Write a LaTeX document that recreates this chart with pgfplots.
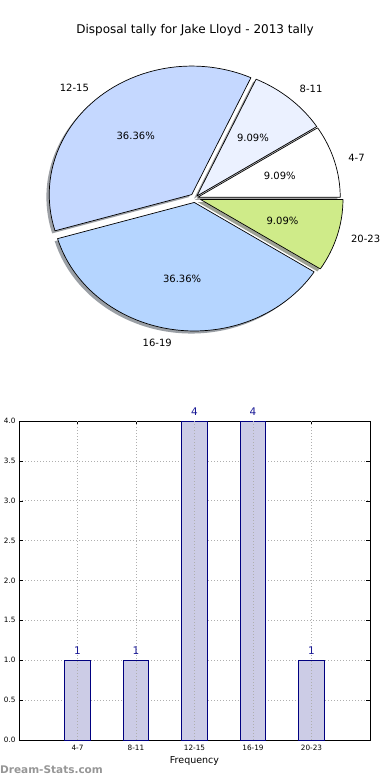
\documentclass[border=0pt]{standalone}
\usepackage{pgfplots}
\pgfplotsset{compat=1.18}
\usepackage{fontspec}
\setmainfont{DejaVu Sans}
\definecolor{cA}{RGB}{255,255,255}
\definecolor{cB}{RGB}{235,241,255}
\definecolor{cC}{RGB}{197,216,255}
\definecolor{cD}{RGB}{181,213,255}
\definecolor{cE}{RGB}{207,235,137}
\definecolor{barfill}{RGB}{204,204,230}
\definecolor{baredge}{RGB}{0,0,128}
\definecolor{lblblue}{RGB}{25,25,150}
\definecolor{gridgray}{RGB}{175,175,175}
\definecolor{wmgray}{RGB}{150,150,150}
% pie wedge: apex x, apex y, start angle, end angle, fill colour
\newcommand{\pieshadow}[5]{%
  \fill[#5!30!black, opacity=0.5] (axis cs:#1,#2) -- ++(#3:142.5pt and 128.5pt)
    arc[start angle=#3, end angle=#4, x radius=142.5pt, y radius=128.5pt] -- cycle;}
\newcommand{\pieslice}[5]{%
  \filldraw[fill=#5, draw=black, line width=0.7pt, line join=round] (axis cs:#1,#2) -- ++(#3:142.5pt and 128.5pt)
    arc[start angle=#3, end angle=#4, x radius=142.5pt, y radius=128.5pt] -- cycle;}
\begin{document}
\begin{tikzpicture}
\useasboundingbox (0,0) rectangle (390pt,780pt);
% ---------------- pie (values 1,1,4,4,1 of 11) ----------------
\begin{axis}[at={(0pt,390pt)}, anchor=south west, scale only axis,
  width=390pt, height=390pt, xmin=0, xmax=390, ymin=0, ymax=390,
  hide axis, clip=false]
% shadows (offset -2.85, -2.57)
\pieshadow{194.88}{190.15}{0}{32.7273}{cA}
\pieshadow{194.02}{191.37}{32.7273}{65.4545}{cB}
\pieshadow{188.88}{192.83}{65.4545}{196.3636}{cC}
\pieshadow{191.44}{184.98}{196.3636}{327.2727}{cD}
\pieshadow{197.62}{187.98}{327.2727}{360}{cE}
% wedges
\pieslice{197.73}{192.72}{0}{32.7273}{cA}
\pieslice{196.87}{193.94}{32.7273}{65.4545}{cB}
\pieslice{191.73}{195.40}{65.4545}{196.3636}{cC}
\pieslice{194.29}{187.55}{196.3636}{327.2727}{cD}
\pieslice{200.47}{190.55}{327.2727}{360}{cE}
% percentages
\begin{scope}[font=\fontsize{10}{12}\selectfont]
\node at (axis cs:279.8,214.4) {9.09\%};
\node at (axis cs:252.9,252.2) {9.09\%};
\node at (axis cs:135.7,253.7) {36.36\%};
\node at (axis cs:182.1,111.2) {36.36\%};
\node at (axis cs:282.5,168.8) {9.09\%};
% labels
\node[anchor=west, inner sep=0pt] at (axis cs:348.1,232.5) {4-7};
\node[anchor=west, inner sep=0pt] at (axis cs:299.5,300.7) {8-11};
\node[anchor=east, inner sep=0pt] at (axis cs:89.1,302.2) {12-15};
\node[anchor=east, inner sep=0pt] at (axis cs:172.0,47.6) {16-19};
\node[anchor=west, inner sep=0pt] at (axis cs:350.9,150.7) {20-23};
\end{scope}
\node[font=\fontsize{12}{14}\selectfont] at (axis cs:195,360) {Disposal tally for Jake Lloyd - 2013 tally};
\end{axis}
% ---------------- bars ----------------
\begin{axis}[at={(19pt,40pt)}, anchor=south west, scale only axis,
  width=351pt, height=319pt,
  xmin=-1, xmax=5, ymin=0, ymax=4,
  ybar, bar width=0.44,
  xtick={0,1,2,3,4}, xticklabels={4-7,8-11,12-15,16-19,20-23},
  ytick={0,0.5,...,4},
  ymajorgrids, grid style={gridgray, dash pattern=on 1pt off 2pt, line width=0.6pt},
  tick align=inside, major tick length=4pt, tick style={black, line width=0.5pt},
  axis line style={line width=0.8pt},
  ticklabel style={font=\fontsize{7.3}{8}\selectfont},
  x tick label style={yshift=-2pt},
  /pgf/number format/assume math mode=true,
  y tick label style={/pgf/number format/.cd, fixed, fixed zerofill, precision=1, /tikz/.cd},
  xlabel={Frequency}, xlabel style={font=\fontsize{9.5}{11}\selectfont, yshift=1pt},
  clip=false,
  nodes near coords,
  nodes near coords style={font=\fontsize{10.5}{12}\selectfont, text=lblblue, yshift=2pt},
  ]
\addplot[fill=barfill, draw=baredge, line width=0.8pt] coordinates {(0,1) (1,1) (2,4) (3,4) (4,1)};
\pgfplotsinvokeforeach{0,...,4}{\draw[gridgray, dash pattern=on 1pt off 2pt, line width=0.6pt] (axis cs:#1,0) -- (axis cs:#1,4);}
\end{axis}
\node[anchor=west, inner sep=0pt, text=wmgray, font=\bfseries\fontsize{10.5}{13}\selectfont] at (0pt,10pt) {Dream-Stats.com};
\end{tikzpicture}
\end{document}
